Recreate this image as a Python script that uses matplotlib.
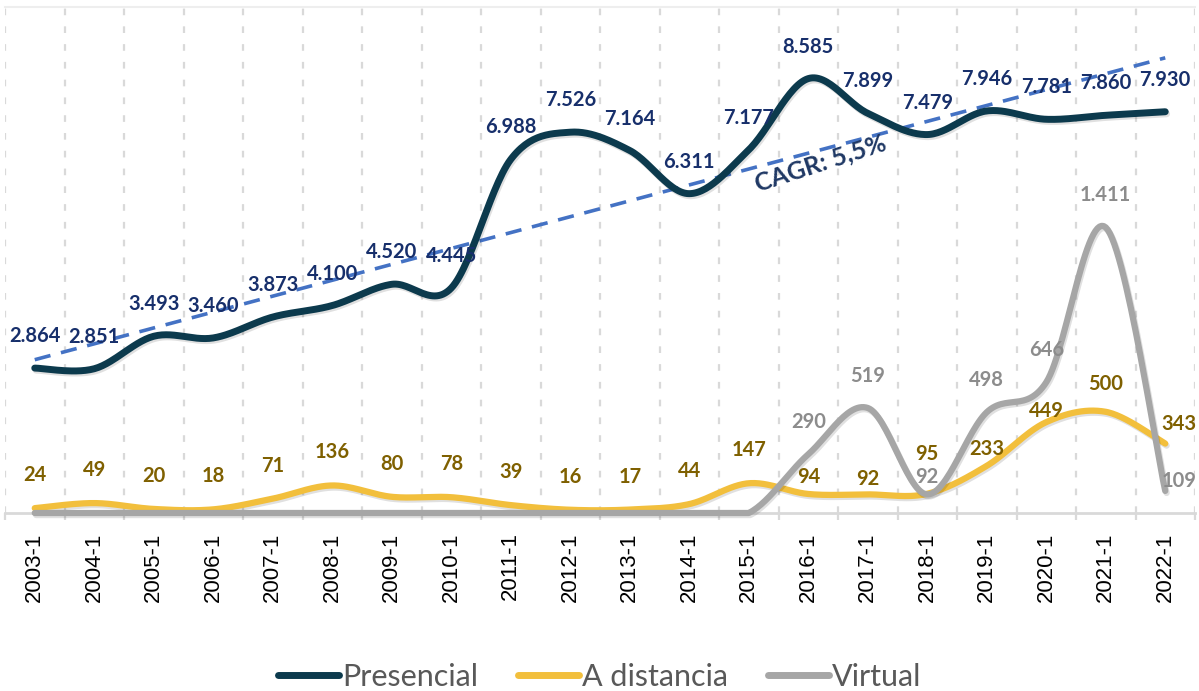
import numpy as np
import matplotlib
matplotlib.use("Agg")
import matplotlib.pyplot as plt
import matplotlib.patheffects as pe
from matplotlib.lines import Line2D

# data
periods = ["2003-1", "2004-1", "2005-1", "2006-1", "2007-1", "2008-1", "2009-1",
           "2010-1", "2011-1", "2012-1", "2013-1", "2014-1", "2015-1", "2016-1",
           "2017-1", "2018-1", "2019-1", "2020-1", "2021-1", "2022-1"]
presencial = [2864, 2851, 3493, 3460, 3873, 4100, 4520, 4445, 6988, 7526,
              7164, 6311, 7177, 8585, 7899, 7479, 7946, 7781, 7860, 7930]
a_distancia = [24, 49, 20, 18, 71, 136, 80, 78, 39, 16,
               17, 44, 147, 94, 92, 95, 233, 449, 500, 343]
virtual = [0, 0, 0, 0, 0, 0, 0, 0, 0, 0,
           0, 0, 0, 290, 519, 92, 498, 646, 1411, 109]

# label offsets in pixels (dx, dy), default is straight above
dist_offsets = {13: (0, 17), 14: (0, 15), 15: (0, 40), 16: (0, 17),
                17: (0, 11), 18: (0, 28), 19: (14, 20)}
virt_offsets = {15: (0, 17), 19: (14, 10)}

C_PRES = "#0c3a4d"
C_DIST = "#f2bf3c"
C_VIRT = "#a6a6a6"
C_PRES_LBL = "#172f6b"
C_DIST_LBL = "#7f6000"
C_VIRT_LBL = "#8c8c8c"
C_TREND = "#4472c4"
C_GRID = "#d9d9d9"

LBL_FONT = "Lato"


def smooth(y, n=30):
    """Bezier smoothing through the points, like Excel's smoothed line"""
    y = np.asarray(y, float)
    p = np.column_stack([np.arange(len(y)), y])
    out = []
    t = np.linspace(0, 1, n)[:, None]
    for i in range(len(p) - 1):
        p0 = p[max(i - 1, 0)]
        p1 = p[i]
        p2 = p[i + 1]
        p3 = p[min(i + 2, len(p) - 1)]
        c1 = p1 + (p2 - p0) / 6
        c2 = p2 - (p3 - p1) / 6
        seg = (1 - t) ** 3 * p1 + 3 * (1 - t) ** 2 * t * c1 + 3 * (1 - t) * t ** 2 * c2 + t ** 3 * p2
        out.append(seg if i == 0 else seg[1:])
    out = np.vstack(out)
    return out[:, 0], out[:, 1]


def fmt(v):
    return f"{v:,}".replace(",", ".")


shadow = [pe.SimpleLineShadow(offset=(1, -1.5), alpha=0.12, shadow_color="k"), pe.Normal()]
px = 0.72  # pixels -> points at 100 dpi

fig = plt.figure(figsize=(11.99, 6.91), dpi=100)
ax = fig.add_axes([5 / 1199, (691 - 513) / 691, 1190 / 1199, 506 / 691])
ax2 = ax.twinx()

n = len(periods)
x = np.arange(n)

for a in (ax, ax2):
    a.set_xlim(-0.5, n - 0.5)
    for s in ("top", "right", "left", "bottom"):
        a.spines[s].set_visible(False)
ax.set_ylim(0, 10000)
ax2.set_ylim(0, 2500)
ax.set_yticks([])
ax2.set_yticks([])

# grid and axis line
for b in np.arange(-0.5, n, 1.0):
    ax.axvline(b, color=C_GRID, lw=1.6, ls=(0, (3, 5)), zorder=0)
ax.axhline(10000, color="#eeeeee", lw=1.5, zorder=0, clip_on=False)
ax.axhline(0, color=C_GRID, lw=2, zorder=1, clip_on=False)

ax.set_xticks(x)
ax.set_xticklabels(periods, rotation=90, fontsize=16, family="Liberation Sans")
ax.tick_params(axis="x", length=0, pad=14)
ax.set_xticks(np.arange(-0.5, n, 1.0), minor=True)
ax.tick_params(axis="x", which="minor", length=5, width=1.6, color=C_GRID)

# linear trend
k, b0 = np.polyfit(x, presencial, 1)
ax.plot(x, k * x + b0, color=C_TREND, lw=2.6, ls=(0, (4.5, 3)), zorder=2)
ax.text(821, 691 - 163, "CAGR: 5,5%", transform=None, rotation=18, ha="center", va="center",
        fontsize=18, color="#1f3864", family=LBL_FONT, fontweight="bold")

# series
sx, sy = smooth(presencial)
ax.plot(sx, sy, color=C_PRES, lw=5, solid_capstyle="round", zorder=3, path_effects=shadow)
sx, sy = smooth(a_distancia)
ax2.plot(sx, np.maximum(sy, 0), color=C_DIST, lw=4.5, solid_capstyle="round", zorder=3,
         path_effects=shadow, clip_on=False)
sx, sy = smooth(virtual)
ax2.plot(sx, np.maximum(sy, 0), color=C_VIRT, lw=4.5, solid_capstyle="round", zorder=4,
         path_effects=shadow, clip_on=False)

# data labels
for i, v in enumerate(presencial):
    ax.annotate(fmt(v), (i, v), xytext=(0, 32 * px), textcoords="offset points",
                ha="center", va="center", fontsize=14.5, fontweight="bold",
                color=C_PRES_LBL, family=LBL_FONT, zorder=6)
for i, v in enumerate(a_distancia):
    dx, dy = dist_offsets.get(i, (0, 33))
    ax2.annotate(fmt(v), (i, v), xytext=(dx * px, dy * px), textcoords="offset points",
                 ha="center", va="center", fontsize=14.5, fontweight="bold",
                 color=C_DIST_LBL, family=LBL_FONT, zorder=6)
for i, v in enumerate(virtual):
    if v == 0:
        continue
    dx, dy = virt_offsets.get(i, (0, 32))
    ax2.annotate(fmt(v), (i, v), xytext=(dx * px, dy * px), textcoords="offset points",
                 ha="center", va="center", fontsize=14.5, fontweight="bold",
                 color=C_VIRT_LBL, family=LBL_FONT, zorder=6)

# legend
handles = [Line2D([], [], color=C_PRES, lw=5, solid_capstyle="round"),
           Line2D([], [], color=C_DIST, lw=5, solid_capstyle="round"),
           Line2D([], [], color=C_VIRT, lw=5, solid_capstyle="round")]
leg = fig.legend(handles, ["Presencial", "A distancia", "Virtual"], loc="center",
                 bbox_to_anchor=(0.5, 1 - 677 / 691), ncol=3, frameon=False,
                 prop={"family": LBL_FONT, "size": 22}, handlelength=2.0,
                 handletextpad=0.1, columnspacing=1.3)
for t in leg.get_texts():
    t.set_color("#595959")

fig.savefig("out.png", dpi=100)
